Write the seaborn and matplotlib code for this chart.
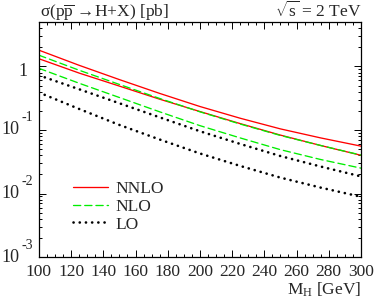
import numpy as np
import pandas as pd
import matplotlib
matplotlib.use("Agg")
import matplotlib.pyplot as plt
import matplotlib.ticker as mticker
import matplotlib.transforms as mtrans
import seaborn as sns

# Higgs mass grid and cross sections (pb), upper/lower scale bands per order
mh = [100, 125, 150, 175, 200, 225, 250, 275, 300]
nnlo_hi = [1.80, 1.04, 0.62, 0.376, 0.234, 0.153, 0.104, 0.075, 0.0557]
nnlo_lo = [1.32, 0.785, 0.49, 0.305, 0.195, 0.126, 0.083, 0.057, 0.040]
nlo_hi = [1.50, 0.87, 0.52, 0.313, 0.193, 0.124, 0.082, 0.057, 0.0403]
nlo_lo = [0.933, 0.543, 0.324, 0.193, 0.117, 0.075, 0.049, 0.0343, 0.0251]
lo_hi = [0.724, 0.437, 0.263, 0.158, 0.0955, 0.0603, 0.0389, 0.0266, 0.0186]
lo_lo = [0.389, 0.214, 0.120, 0.0708, 0.0427, 0.0272, 0.0178, 0.0124, 0.0089]

orders = ["NNLO", "NLO", "LO"]
curves = {"NNLO": (nnlo_hi, nnlo_lo), "NLO": (nlo_hi, nlo_lo), "LO": (lo_hi, lo_lo)}
ytick_exp = [-3, -2, -1]

sns.set_style("ticks")
plt.rcParams["font.family"] = ["Liberation Serif", "DejaVu Serif"]
plt.rcParams["mathtext.fontset"] = "custom"
plt.rcParams["mathtext.rm"] = "Liberation Serif"
plt.rcParams["mathtext.it"] = "Liberation Serif:italic"
plt.rcParams["mathtext.cal"] = "Liberation Serif"

FS = 12.5
styles = {
    "NNLO": dict(color="#ff0000", lw=0.95, dashes=None),
    "NLO": dict(color="#00ee00", lw=0.95, dashes=(5.5, 3.0)),
    "LO": dict(color="black", lw=1.9, dashes=(0.05, 2.3)),
}

fig = plt.figure(figsize=(3.74, 3.05), dpi=100)
ax = fig.add_axes([0.104, 0.157, 0.861, 0.771])

rows = []
for o in orders:
    for tag, vals in zip(["hi", "lo"], curves[o]):
        for m, v in zip(mh, vals):
            rows.append({"MH": m, "sigma": v, "order": o, "scale": tag})
df = pd.DataFrame(rows)

for o in orders:
    st = styles[o]
    sub = df[df["order"] == o]
    sns.lineplot(data=sub, x="MH", y="sigma", units="scale", estimator=None,
                 color=st["color"], lw=st["lw"], ax=ax, legend=False)
    for ln in ax.lines[-2:]:
        ln.set_label("_")
        if st["dashes"] is not None:
            ln.set_dashes(st["dashes"])
            ln.set_dash_capstyle("round")
    ax.lines[-2].set_label(o)

ax.set_yscale("log")
ax.set_xlim(100, 300)
ax.set_ylim(1e-3, 5)
ax.xaxis.set_major_locator(mticker.MultipleLocator(20))
ax.xaxis.set_minor_locator(mticker.MultipleLocator(5))
ax.yaxis.set_major_locator(mticker.FixedLocator([1e-3, 1e-2, 1e-1, 1]))
ax.yaxis.set_minor_locator(mticker.LogLocator(base=10, subs=np.arange(2, 10), numticks=20))
ax.yaxis.set_minor_formatter(mticker.NullFormatter())
ax.yaxis.set_major_formatter(mticker.NullFormatter())
ax.tick_params(which="both", direction="in", top=True, right=True, labelsize=FS,
               width=0.7, color="black")
ax.tick_params(which="major", length=5, pad=5)
ax.tick_params(which="minor", length=2.5)
for sp in ax.spines.values():
    sp.set_linewidth(0.9)
    sp.set_color("black")
ax.set_xlabel("")
ax.set_ylabel("")

# y tick labels drawn by hand: "10" with a raised, detached exponent
trans = mtrans.blended_transform_factory(fig.transFigure, ax.transData)
for e in ytick_exp:
    fig.text(0.052, 10.0 ** e, "10", transform=trans, ha="right", va="center", fontsize=13)
    fig.text(0.058, 10.0 ** e, str(e), transform=trans + mtrans.ScaledTranslation(0, 12 / 100, fig.dpi_scale_trans),
             ha="left", va="center", fontsize=10)
fig.text(0.074, 1.0, "1", transform=trans + mtrans.ScaledTranslation(0, -5 / 100, fig.dpi_scale_trans),
         ha="right", va="center", fontsize=13)

fig.text(0.965, 0.035, r"M$_\mathrm{H}$ [GeV]", ha="right", va="baseline", fontsize=FS)
fig.text(0.107, 0.945, "\u03c3(p$\\overline{\\mathrm{p}}$ \u2192H+X) [pb]",
         ha="left", va="baseline", fontsize=FS)
fig.text(0.965, 0.945, r"$\sqrt{\mathrm{s}}$ = 2 TeV", ha="right", va="baseline", fontsize=FS)

ax.legend(loc="upper left", bbox_to_anchor=(0.085, 0.355), frameon=False, fontsize=FS,
          handlelength=2.0, handletextpad=0.45, labelspacing=0.1, borderaxespad=0)

fig.savefig("out.png", dpi=100)
